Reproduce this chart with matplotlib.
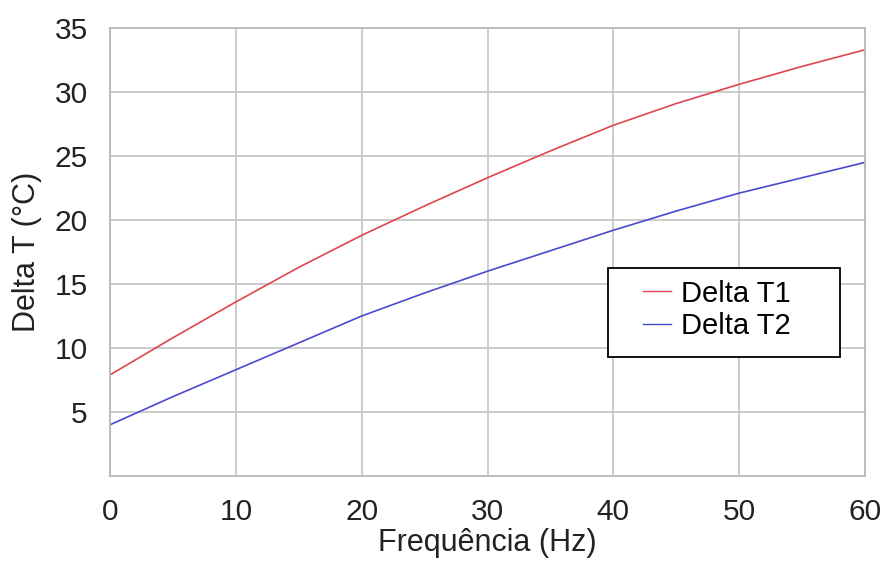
import matplotlib
matplotlib.use("Agg")
import matplotlib.pyplot as plt
from matplotlib.patches import Rectangle

freq = [0, 5, 10, 15, 20, 25, 30, 35, 40, 45, 50, 55, 60]
delta_t1 = [7.9, 10.8, 13.6, 16.3, 18.8, 21.1, 23.3, 25.4, 27.4, 29.1, 30.6, 32.0, 33.3]
delta_t2 = [4.0, 6.2, 8.3, 10.4, 12.5, 14.3, 16.0, 17.6, 19.2, 20.7, 22.1, 23.3, 24.5]
xticks = [0, 10, 20, 30, 40, 50, 60]
yticks = [5, 10, 15, 20, 25, 30, 35]

plt.rcParams['font.family'] = ['Liberation Sans', 'DejaVu Sans']

fig = plt.figure(figsize=(8.81, 5.61), dpi=100)
ax = fig.add_axes([110/881, 1-476/561, 755/881, 448/561])

ax.plot(freq, delta_t1, color='#e0454f', lw=1.2, label='Delta T1')
ax.plot(freq, delta_t2, color='#4a4ad0', lw=1.2, label='Delta T2')

ax.set_xlim(0, 60)
ax.set_ylim(0, 35)
ax.set_xticks(xticks)
ax.set_yticks(yticks)
ax.tick_params(length=0, labelsize=21.5, pad=16, colors='#222222')
ax.grid(True, color='#c8c8c8', lw=1.3)
ax.set_axisbelow(True)
for s in ax.spines.values():
    s.set_color('#b8b8b8')
    s.set_linewidth(1.3)

ax.set_xlabel('Frequência (Hz)', fontsize=22, labelpad=1, color='#222222')
ax.set_ylabel('Delta T (°C)', fontsize=22, labelpad=9, color='#222222')

# legend frame
ax.add_patch(Rectangle((0.6596, 0.2656), 0.9669 - 0.6596, 0.4643 - 0.2656,
                       transform=ax.transAxes, facecolor='white',
                       edgecolor='black', lw=1.3, zorder=5))
leg = ax.legend(loc='center left', bbox_to_anchor=(0.706, 0.3705), fontsize=21,
                frameon=False, handlelength=0.95, handletextpad=0.35,
                borderpad=0, labelspacing=0.17, borderaxespad=0)
leg.set_zorder(6)
for line in leg.get_lines():
    line.set_linewidth(1.0)

fig.savefig('out.png', dpi=100)
